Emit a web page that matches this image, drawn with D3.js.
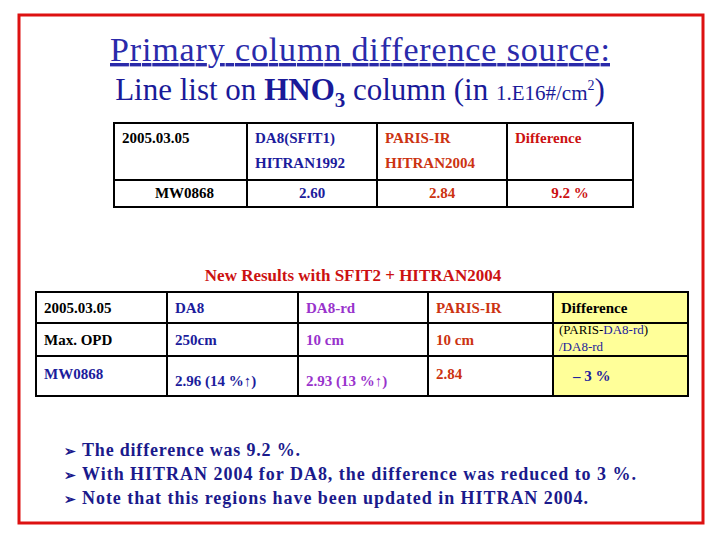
<!DOCTYPE html>
<html><head><meta charset="utf-8">
<script src="https://cdn.jsdelivr.net/npm/d3@7"></script>
<style>body{margin:0;background:#fff}</style></head>
<body><svg id="s" width="720" height="540"></svg>
<script>
const BLUE="#1c1c9c", RED="#cc1111", ORANGE="#cc3311", PURPLE="#9933cc", DBLUE="#1a1a8c";
const t1Header=[["2005.03.05",""],["DA8(SFIT1)","HITRAN1992"],["PARIS-IR","HITRAN2004"],["Difference",""]];
const t1Row=["MW0868","2.60","2.84","9.2 %"];
const t1Colors=["#000",BLUE,ORANGE,RED];
const t2Rows=[["2005.03.05","DA8","DA8-rd","PARIS-IR","Difference"],
 ["Max. OPD","250cm","10 cm","10 cm",""],
 ["MW0868","2.96 (14 %↑)","2.93 (13 %↑)","2.84","– 3 %"]];
const t2Colors=[["#000",BLUE,PURPLE,ORANGE,"#000"],["#000",BLUE,PURPLE,ORANGE,"#000"],[BLUE,BLUE,PURPLE,ORANGE,BLUE]];
const bullets=["The difference was 9.2 %.","With HITRAN 2004 for DA8, the difference was reduced to 3 %.","Note that this regions have been updated in HITRAN 2004."];
const bulletWidths=[218,554,506];

const svg=d3.select("#s"), F="Liberation Serif, Times New Roman, serif";
svg.append("rect").attr("x",19).attr("y",15).attr("width",684).attr("height",508).attr("fill","none").attr("stroke","#dd1111").attr("stroke-width",3);
svg.append("text").attr("x",110).attr("y",61).attr("textLength",500).attr("font-family",F).attr("font-size",34).attr("fill","#2a2aaa").attr("text-decoration","underline").text("Primary column difference source:");
const st=svg.append("text").attr("x",360).attr("y",100).attr("text-anchor","middle").attr("font-family",F).attr("font-size",31).attr("fill","#1a1a99");
st.append("tspan").text("Line list on ");
st.append("tspan").attr("font-weight","bold").text("HNO");
st.append("tspan").attr("font-weight","bold").attr("font-size",21).attr("dy",7).text("3");
st.append("tspan").attr("dy",-7).text(" column (in ");
st.append("tspan").attr("font-size",21).text("1.E16#/cm");
st.append("tspan").attr("font-size",14).attr("dy",-10).text("2");
st.append("tspan").attr("dy",10).text(")");

// table 1
const x1=d3.scaleOrdinal().domain([0,1,2,3,4]).range([114,247,377,507,633]);
const y1=[123,180,207];
const g1=svg.append("g").attr("font-family",F).attr("font-weight","bold").attr("font-size",15);
[0,1,2,3].forEach(i=>{
  [0,1].forEach(r=>g1.append("rect").attr("x",x1(i)).attr("y",y1[r]).attr("width",x1(i+1)-x1(i)).attr("height",y1[r+1]-y1[r]).attr("fill","none").attr("stroke","#000").attr("stroke-width",2));
  t1Header[i].forEach((t,k)=>g1.append("text").attr("x",x1(i)+8).attr("y",143+k*25).attr("fill",t1Colors[i]).text(t));
  g1.append("text").attr("x",(x1(i)+x1(i+1))/2+(i==0?4:0)).attr("y",198).attr("text-anchor","middle").attr("fill",t1Colors[i]).text(t1Row[i]);
});
svg.append("text").attr("x",353).attr("y",281).attr("text-anchor","middle").attr("font-family",F).attr("font-weight","bold").attr("font-size",17).attr("fill",RED).text("New Results with SFIT2 + HITRAN2004");

// table 2
const xs=[36,167,298,428,553,688], ys=[292,323,356,396];
const g2=svg.append("g").attr("font-family",F).attr("font-weight","bold").attr("font-size",15);
t2Rows.forEach((row,r)=>row.forEach((t,i)=>{
  g2.append("rect").attr("x",xs[i]).attr("y",ys[r]).attr("width",xs[i+1]-xs[i]).attr("height",ys[r+1]-ys[r]).attr("fill",i==4?"#ffff99":"none").attr("stroke","#000").attr("stroke-width",2);
}));
t2Rows.forEach((row,r)=>row.forEach((t,i)=>{
  const yy=r==0?313:r==1?345:(i==0||i==3?379:386);
  g2.append("text").attr("x",xs[i]+8+(r==2&&i==4?12:0)).attr("y",r==2&&i==4?381:yy).attr("fill",t2Colors[r][i]).text(t);
}));
const dn=g2.append("text").attr("x",559).attr("y",334).attr("font-size",13).attr("font-weight","normal");
dn.append("tspan").attr("fill","#000").text("(PARIS-");
dn.append("tspan").attr("fill",BLUE).text("DA8-rd");
dn.append("tspan").attr("fill","#000").text(")");
g2.append("text").attr("x",559).attr("y",351).attr("font-size",13).attr("font-weight","normal").attr("fill",BLUE).text("/DA8-rd");

// bullets
const gb=svg.append("g").attr("font-family",F).attr("font-weight","bold").attr("font-size",18).attr("fill",DBLUE);
bullets.forEach((b,i)=>{
  gb.append("text").attr("x",64).attr("y",456+i*24).attr("font-size",14).text("➢");
  gb.append("text").attr("x",82).attr("y",456+i*24).attr("textLength",bulletWidths[i]).text(b);
});
</script></body></html>
